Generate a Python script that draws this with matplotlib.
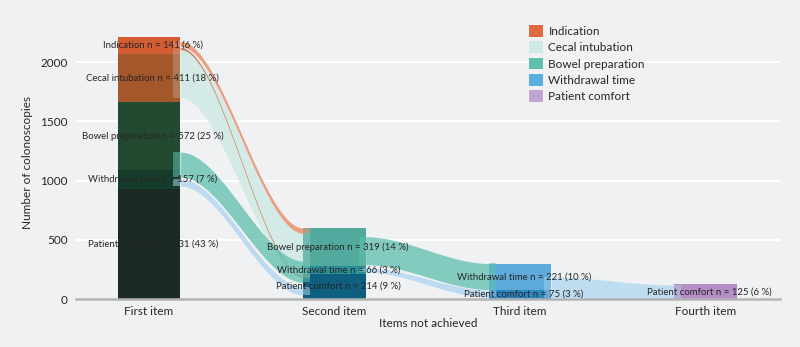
import numpy as np
import matplotlib
matplotlib.use("Agg")
import matplotlib.pyplot as plt
from matplotlib.patches import Patch

plt.rcParams['font.family'] = ['Lato', 'DejaVu Sans']

# ---- data -------------------------------------------------------------
stages = ['First item', 'Second item', 'Third item', 'Fourth item']
legend_items = ['Indication', 'Cecal intubation', 'Bowel preparation',
                'Withdrawal time', 'Patient comfort']

# stacked bottom -> top for every stage
stage_items = [
    ['Patient comfort', 'Withdrawal time', 'Bowel preparation', 'Cecal intubation', 'Indication'],
    ['Patient comfort', 'Withdrawal time', 'Bowel preparation'],
    ['Patient comfort', 'Withdrawal time'],
    ['Patient comfort'],
]
stage_n = [[931, 157, 572, 411, 141], [214, 66, 319], [75, 221], [125]]
stage_pct = [[43, 7, 25, 18, 6], [9, 3, 14], [3, 10], [6]]

# flows between consecutive stages
flow_stage = [0, 0, 0, 0, 0, 1, 1, 2]
flow_src = [(1700, 2110), (2130, 2175), (2105, 2122), (1030, 1240),
            (954, 1013), (290, 525), (228, 262), (8, 186)]
flow_dst = [(180, 565), (555, 599), (186, 200), (140, 320),
            (34, 101), (80, 300), (15, 75), (0, 118)]

# ---- style ------------------------------------------------------------
bg = '#f0f1f3'
legend_colors = ['#df6a3d', '#cfeae6', '#5fbfae', '#5ab0e2', '#c2a3cf']
bar_colors = [
    ['#1b2a25', '#163d2b', '#234a31', '#a4572b', '#d15d31'],
    ['#0f5f80', '#2a8f96', '#52aa9e'],
    ['#2c86bf', '#5eaadb'],
    ['#b48ec4'],
]
flow_colors = ['#cfe9e5', '#ec9473', '#c8774f', '#5fbfae',
               '#b7d9f1', '#5fbfae', '#b7d9f1', '#b9dbf1']
flow_alpha = [0.85, 0.9, 0.9, 0.75, 0.9, 0.75, 0.9, 0.9]
edge_alpha = [0.25, 0.6, 0.6, 0.55, 0.5, 0.55, 0.4, 0.4]
half = 0.168
ov = 0.038
txt = '#262626'

fig = plt.figure(figsize=(8, 3.47), dpi=100, facecolor=bg)
ax = fig.add_axes([76/800, 1-299/347, (780-76)/800, (299-26.5)/347])
ax.set_facecolor(bg)

# flows
t = np.linspace(0, 1, 120)
ease = t*t*(3-2*t)
for s, (a0, a1), (b0, b1), c, al, ea in zip(flow_stage, flow_src, flow_dst,
                                             flow_colors, flow_alpha, edge_alpha):
    x0, x1 = s + half, s + 1 - half
    xs = x0 + (x1-x0)*t
    lo = a0 + (b0-a0)*ease
    hi = a1 + (b1-a1)*ease
    ax.fill_between(xs, lo, hi, color=c, alpha=al, lw=0, zorder=1)
    ax.fill_between([x0-ov, x0], a0, a1, color=c, alpha=ea, lw=0, zorder=3)
    ax.fill_between([x1, x1+ov], b0, b1, color=c, alpha=ea, lw=0, zorder=3)

# bars + labels
for s in range(len(stages)):
    bottom = 0
    for item, n, p, c in zip(stage_items[s], stage_n[s], stage_pct[s], bar_colors[s]):
        ax.bar(s, n, bottom=bottom, width=2*half, color=c, lw=0, zorder=2)
        ax.text(s + 0.02, bottom + n/2, f'{item} n = {n} ({p} %)', ha='center', va='center',
                fontsize=6.9, color=txt, zorder=5)
        bottom += n

ax.set_xlim(-0.3935, 3.4016)
ax.set_ylim(0, 2300)
ax.set_xticks(range(len(stages)))
ax.set_xticklabels(stages)
ax.set_yticks([0, 500, 1000, 1500, 2000])
ax.yaxis.grid(True, color='white', lw=1.5)
ax.set_axisbelow(True)
ax.tick_params(length=0, labelsize=8.5, colors=txt)
ax.tick_params(axis='y', pad=6)
ax.tick_params(axis='x', pad=5)
for sp in ['top', 'right', 'left']:
    ax.spines[sp].set_visible(False)
ax.spines['bottom'].set_color('#b3b3b3')
ax.spines['bottom'].set_linewidth(1.8)
ax.spines['bottom'].set_zorder(6)
ax.set_xlabel('Items not achieved', fontsize=8.5, color=txt, labelpad=1)
ax.set_ylabel('Number of colonoscopies', fontsize=8.5, color=txt, labelpad=5)

handles = [Patch(facecolor=c, label=l) for c, l in zip(legend_colors, legend_items)]
fig.legend(handles=handles, loc='upper left', bbox_to_anchor=(529/800, 1-25/347),
           frameon=False, fontsize=8.5, handlelength=1.15, handleheight=1.15,
           handletextpad=0.5, labelspacing=0.38, borderaxespad=0, borderpad=0,
           labelcolor=txt)

fig.savefig('out.png', dpi=100, facecolor=bg)
